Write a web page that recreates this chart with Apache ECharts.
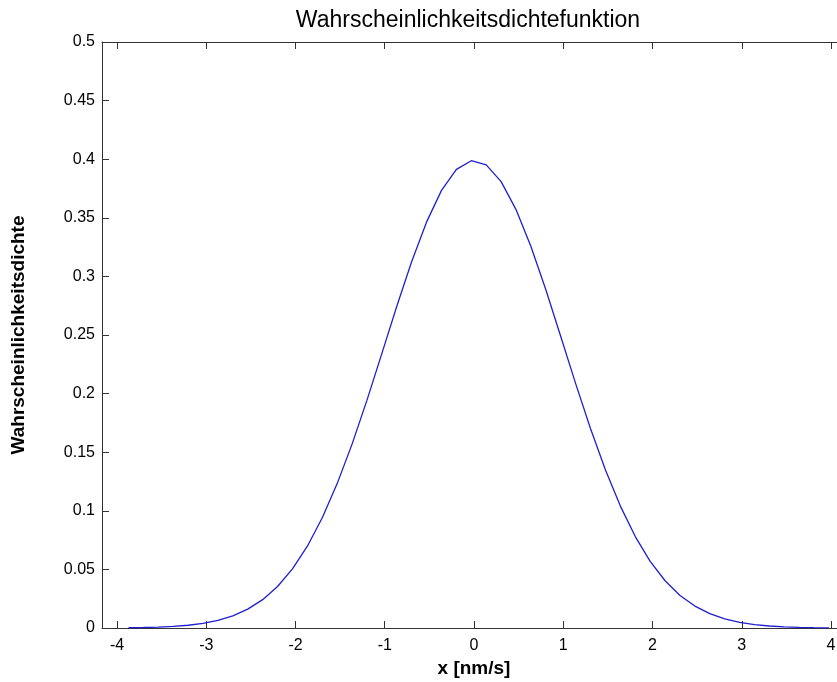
<!DOCTYPE html>
<html>
<head>
<meta charset="utf-8">
<script src="https://cdn.jsdelivr.net/npm/echarts@6/dist/echarts.min.js"></script>
<style>html,body{margin:0;padding:0;background:#fff}#c{width:837px;height:682px}</style>
</head>
<body>
<div id="c"></div>
<script>
var titleText = 'Wahrscheinlichkeitsdichtefunktion';
var xLabel = 'x [nm/s]';
var yLabel = 'Wahrscheinlichkeitsdichte';
var xTicks = [-4, -3, -2, -1, 0, 1, 2, 3, 4];
var yTicks = [0, 0.05, 0.1, 0.15, 0.2, 0.25, 0.3, 0.35, 0.4, 0.45, 0.5];
var xValues = [-3.871, -3.704, -3.537, -3.370, -3.203, -3.036, -2.869, -2.702, -2.535, -2.368,
  -2.201, -2.034, -1.867, -1.700, -1.533, -1.366, -1.199, -1.032, -0.865, -0.698,
  -0.531, -0.364, -0.197, -0.030, 0.137, 0.304, 0.471, 0.638, 0.805, 0.972,
  1.139, 1.306, 1.473, 1.640, 1.807, 1.974, 2.141, 2.308, 2.475, 2.642,
  2.809, 2.976, 3.143, 3.310, 3.477, 3.644, 3.811, 3.978];
var densityValues = [0.00022, 0.00042, 0.00077, 0.00136, 0.00236, 0.00397, 0.0065, 0.0104, 0.0161, 0.0242,
  0.0354, 0.0504, 0.0698, 0.0941, 0.1232, 0.1569, 0.1944, 0.2343, 0.2745, 0.3127,
  0.3465, 0.3734, 0.3913, 0.3987, 0.3952, 0.3809, 0.3570, 0.3255, 0.2886, 0.2487,
  0.2085, 0.1700, 0.1348, 0.1040, 0.0780, 0.0569, 0.0403, 0.0278, 0.0187, 0.0122,
  0.0077, 0.0048, 0.0029, 0.0017, 0.00095, 0.00052, 0.00028, 0.00015];

var xMin = -4.168, xMax = 4.168;
var data = xValues.map(function (x, i) { return [x, densityValues[i]]; });
var axisColor = '#333';
var font = 'Liberation Sans, Arial, sans-serif';

var chart = echarts.init(document.getElementById('c'), null, {renderer: 'canvas'});
chart.setOption({
  animation: false,
  backgroundColor: '#fff',
  title: {
    text: titleText, left: 463, top: 4, textAlign: 'center',
    textStyle: {fontFamily: font, fontSize: 23, fontWeight: 'normal', color: '#000'}
  },
  grid: {left: 102, top: 42, width: 744, height: 586, outerBoundsMode: 'none', containLabel: false},
  xAxis: [{
    type: 'value', min: xMin, max: xMax, position: 'bottom',
    name: xLabel, nameLocation: 'middle', nameGap: 29,
    nameTextStyle: {fontFamily: font, fontSize: 19, fontWeight: 'bold', color: '#000'},
    axisLine: {show: true, onZero: false, lineStyle: {color: axisColor, width: 1}},
    axisTick: {show: true, inside: true, length: 7, customValues: xTicks, lineStyle: {color: axisColor}},
    axisLabel: {show: true, customValues: xTicks, margin: 10, fontFamily: font, fontSize: 16, color: '#000'},
    splitLine: {show: false}
  }, {
    type: 'value', min: xMin, max: xMax, position: 'top',
    axisLine: {show: true, onZero: false, lineStyle: {color: axisColor, width: 1}},
    axisTick: {show: true, inside: true, length: 7, customValues: xTicks, lineStyle: {color: axisColor}},
    axisLabel: {show: false},
    splitLine: {show: false}
  }],
  yAxis: [{
    type: 'value', min: 0, max: 0.5, interval: 0.05, position: 'left',
    name: yLabel, nameLocation: 'middle', nameGap: 74, nameRotate: 90,
    nameTextStyle: {fontFamily: font, fontSize: 19, fontWeight: 'bold', color: '#000'},
    axisLine: {show: true, onZero: false, lineStyle: {color: axisColor, width: 1}},
    axisTick: {show: true, inside: true, length: 7, customValues: yTicks, lineStyle: {color: axisColor}},
    axisLabel: {show: true, customValues: yTicks, margin: 7, fontFamily: font, fontSize: 16, color: '#000',
      formatter: function (v) { return String(+v.toFixed(2)); }},
    splitLine: {show: false}
  }],
  series: [{
    type: 'line', data: data, showSymbol: false, symbol: 'none', smooth: false,
    xAxisIndex: 0, yAxisIndex: 0, clip: true,
    lineStyle: {color: '#1f1fd0', width: 1.3}
  }]
});
</script>
</body>
</html>
